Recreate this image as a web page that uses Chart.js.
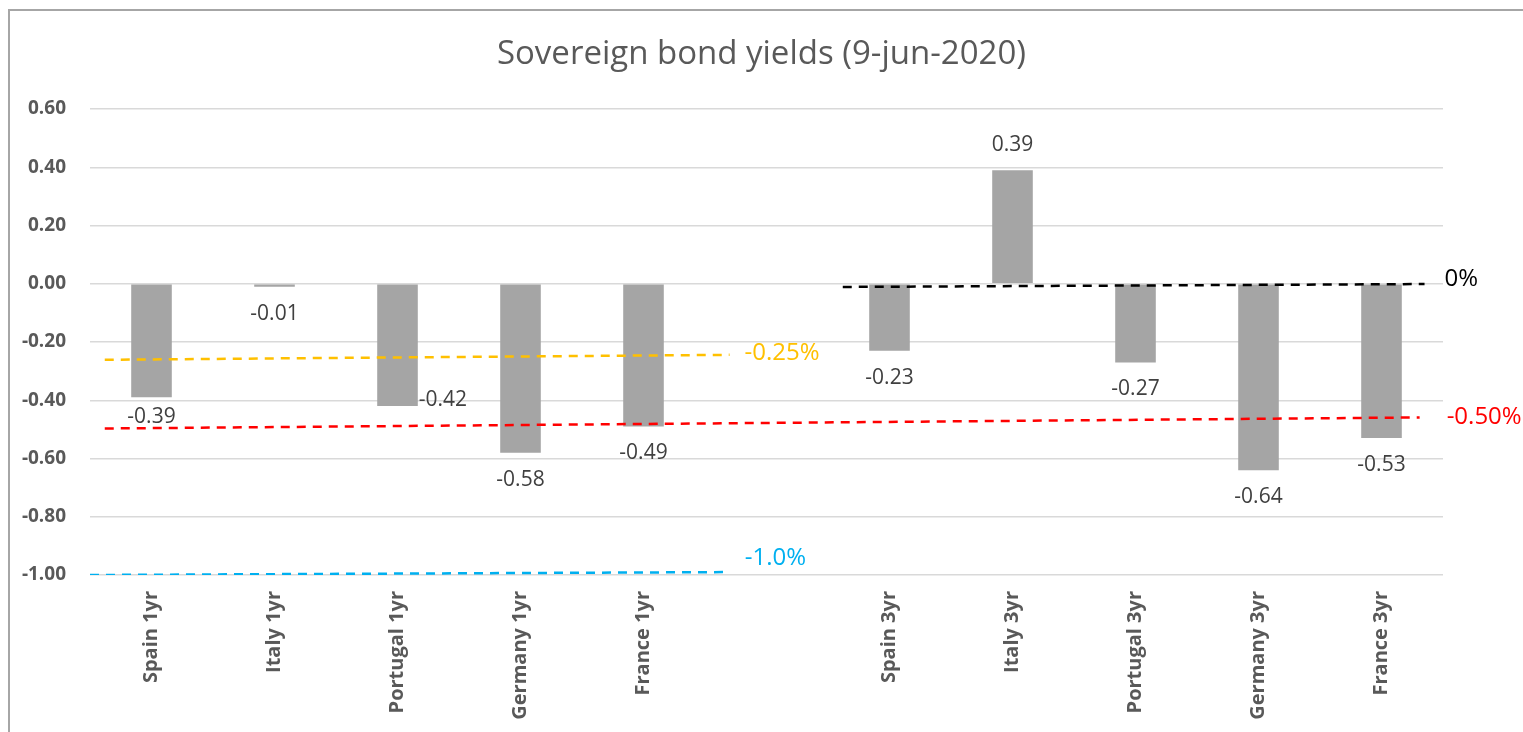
<!DOCTYPE html>
<html>
<head>
<meta charset="utf-8">
<script src="https://cdn.jsdelivr.net/npm/chart.js@4"></script>
<style>
html,body{margin:0;padding:0;background:#fff;}
#wrap{position:absolute;left:0;top:0;width:1523px;height:732px;}
</style>
</head>
<body>
<div id="wrap"><canvas id="c" width="1523" height="732"></canvas></div>
<script>
const categories = ['Spain 1yr','Italy 1yr','Portugal 1yr','Germany 1yr','France 1yr','','Spain 3yr','Italy 3yr','Portugal 3yr','Germany 3yr','France 3yr'];
const yields = [-0.39,-0.01,-0.42,-0.58,-0.49,null,-0.23,0.39,-0.27,-0.64,-0.53];
const yTicks = [0.6,0.4,0.2,0,-0.2,-0.4,-0.6,-0.8,-1.0];

// reference (hand-drawn) threshold lines: [x start, x end] in category units, [y start, y end]
const refLabels = ['-0.25%','-0.50%','-1.0%','0%'];
const refX = [[-0.38,4.70],[-0.38,10.31],[-0.5,4.66],[5.62,10.35]];
const refY = [[-0.261,-0.244],[-0.497,-0.459],[-1.0,-0.99],[-0.011,-0.001]];
const refColors = ['#FFC000','#FF0000','#00B0F0','#000000'];

const labelOffsets = [[15,-2],[27,0],[20,-14],[20,-5]];

const lineSets = refLabels.map((lab,i)=>({
  type:'line',
  label: lab,
  xAxisID:'x2',
  data:[{x:refX[i][0],y:refY[i][0]},{x:refX[i][1],y:refY[i][1]}],
  borderColor: refColors[i],
  borderWidth: 2.5,
  borderDash:[9,7],
  pointRadius:0,
  fill:false,
  order:0
}));

const frame = {
  id:'frame',
  beforeDraw(chart){
    const ctx=chart.ctx;
    ctx.save();
    ctx.strokeStyle='#A6A6A6';
    ctx.lineWidth=2;
    ctx.beginPath();
    ctx.moveTo(9,732);ctx.lineTo(9,10);ctx.lineTo(1523,10);
    ctx.stroke();
    ctx.restore();
  }
};

const labelsPlugin = {
  id:'labelsPlugin',
  afterDatasetsDraw(chart){
    const ctx=chart.ctx;
    const meta=chart.getDatasetMeta(0);
    ctx.save();
    ctx.font='21px "Open Sans", sans-serif';
    ctx.fillStyle='#404040';
    ctx.textBaseline='middle';
    meta.data.forEach((bar,i)=>{
      const v=yields[i];
      if(v===null||v===undefined) return;
      const txt=v.toFixed(2);
      if(categories[i]==='Portugal 1yr'){
        ctx.textAlign='left';
        ctx.fillText(txt,bar.x+bar.width/2+1,bar.y-6);
        return;
      }
      ctx.textAlign='center';
      let off = 27;
      if(categories[i]==='Spain 1yr') off = 20;
      const y = v<0 ? bar.y+off : bar.y-25;
      ctx.fillText(txt,bar.x,y);
    });
    // threshold labels
    const x2=chart.scales.x2, y=chart.scales.y;
    ctx.font='24px "Open Sans", sans-serif';
    ctx.textAlign='left';
    refLabels.forEach((lab,i)=>{
      const px=x2.getPixelForValue(refX[i][1])+labelOffsets[i][0];
      const py=y.getPixelForValue(refY[i][1])+labelOffsets[i][1];
      ctx.fillStyle=refColors[i];
      ctx.fillText(lab,px,py);
    });
    ctx.restore();
  }
};

new Chart(document.getElementById('c'),{
  type:'bar',
  data:{
    labels:categories,
    datasets:[{
      label:'Yield',
      data:yields,
      backgroundColor:'#A5A5A5',
      barPercentage:0.33,
      categoryPercentage:1.0,
      grouped:false,
      order:1
    }, ...lineSets]
  },
  options:{
    responsive:false,
    animation:false,
    layout:{padding:{left:0,right:0,top:0,bottom:0}},
    plugins:{
      legend:{display:false},
      tooltip:{enabled:false},
      title:{
        display:true,
        text:'Sovereign bond yields (9-jun-2020)',
        color:'#595959',
        font:{family:'"Open Sans", sans-serif',size:33,weight:'normal'},
        padding:{top:35,bottom:34.4}
      }
    },
    scales:{
      x:{
        type:'category',
        offset:true,
        grid:{display:false,drawTicks:false},
        border:{display:false},
        ticks:{
          autoSkip:false,
          minRotation:90,maxRotation:90,
          padding:16,
          color:'#595959',
          font:{family:'"Open Sans", sans-serif',size:20,weight:'bold'}
        },
        afterFit(s){s.height=157;}
      },
      x2:{
        type:'linear',
        display:false,
        offset:false,
        grid:{display:false},
        min:-0.5,max:10.5
      },
      y:{
        min:-1.0,max:0.6,
        afterBuildTicks(s){s.ticks=yTicks.map(v=>({value:v}));},
        grid:{color:'#D9D9D9',lineWidth:1.5,drawTicks:false},
        border:{display:false},
        ticks:{
          padding:24,
          color:'#595959',
          font:{family:'"Open Sans", sans-serif',size:19,weight:'bold'},
          callback:(v)=>Number(v).toFixed(2)
        },
        afterFit(s){s.width=90;}
      },
      yr:{
        position:'right',
        min:-1.0,max:0.6,
        grid:{display:false,drawTicks:false},
        border:{display:false},
        ticks:{display:false},
        afterFit(s){s.width=80;}
      }
    }
  },
  plugins:[frame,labelsPlugin]
});
</script>
</body>
</html>
